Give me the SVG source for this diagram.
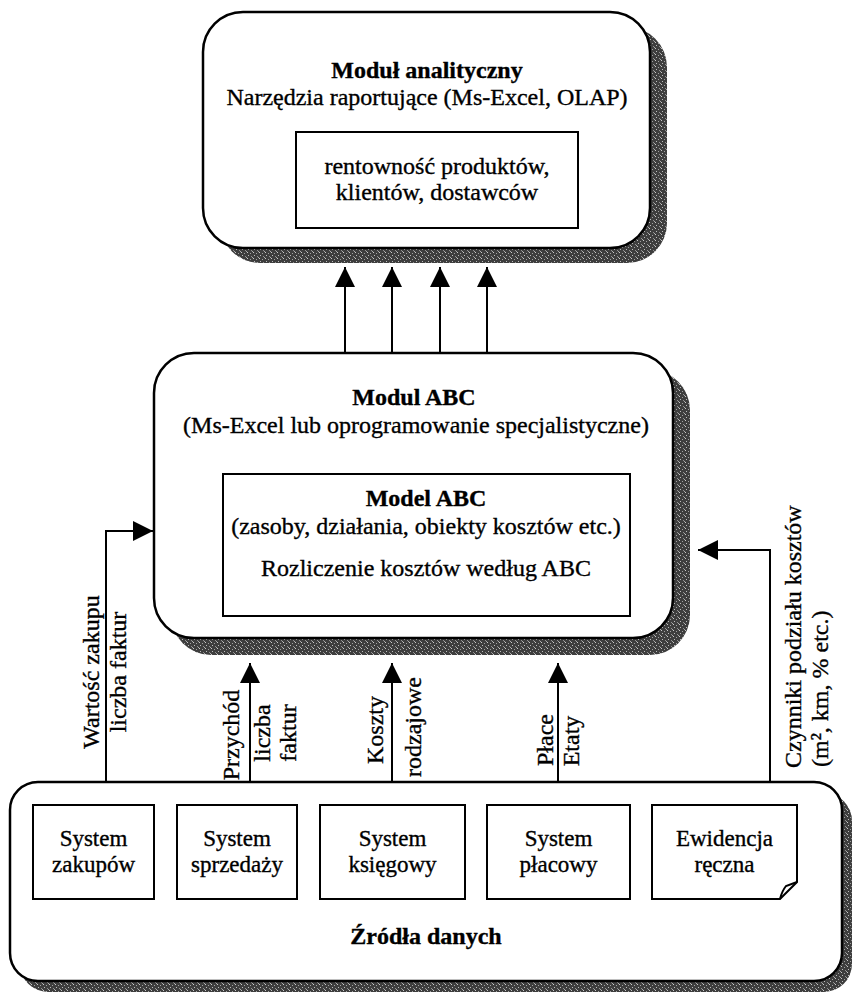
<svg xmlns="http://www.w3.org/2000/svg" width="853" height="994" viewBox="0 0 853 994">
<defs>
<pattern id="stip" width="6" height="6" patternUnits="userSpaceOnUse">
<rect width="6" height="6" fill="#3e3e3e"/>
<rect x="1" y="0" width="1" height="1" fill="#c8c8c8"/>
<rect x="4" y="1" width="1" height="1" fill="#a0a0a0"/>
<rect x="2" y="3" width="1" height="1" fill="#bdbdbd"/>
<rect x="5" y="4" width="1" height="1" fill="#909090"/>
<rect x="0" y="5" width="1" height="1" fill="#aaaaaa"/>
</pattern>
<marker id="ah" viewBox="0 0 20 20" refX="20" refY="10" markerWidth="20" markerHeight="20" markerUnits="userSpaceOnUse" orient="auto">
<path d="M0,0 L20,10 L0,20 Z" fill="#000"/>
</marker>
</defs>
<style>
text{font-family:"Liberation Serif","Times New Roman",serif;font-size:24px;fill:#000;stroke:#000;stroke-width:0.35}
.b{font-weight:bold}
.m{text-anchor:middle}
.s{text-anchor:start}
.sm{font-size:23px}
.outer{fill:#fff;stroke:#000;stroke-width:2.5}
.shadow{fill:url(#stip);stroke:none}
.inner{fill:#fff;stroke:#000;stroke-width:2}
.con{fill:none;stroke:#000;stroke-width:2}
</style>

<g id="modul-analityczny">
<rect class="shadow" x="220" y="27" width="447" height="236" rx="40"/>
<rect class="outer" x="203" y="12" width="447" height="236" rx="40"/>
<text class="b m" x="427" y="78">Moduł analityczny</text>
<text class="m" x="427" y="105">Narzędzia raportujące (Ms-Excel, OLAP)</text>
<g id="rentownosc">
<rect class="inner" x="296" y="132" width="282" height="96"/>
<text class="m" x="437" y="174">rentowność produktów,</text>
<text class="m" x="437" y="200">klientów, dostawców</text>
</g>
</g>

<g id="modul-abc">
<rect class="shadow" x="171" y="370" width="519" height="285" rx="40"/>
<rect class="outer" x="154" y="353" width="519" height="285" rx="40"/>
<text class="b m" x="414" y="405">Modul ABC</text>
<text class="m" x="416" y="433">(Ms-Excel lub oprogramowanie specjalistyczne)</text>
<g id="model-abc">
<rect class="inner" x="223" y="474" width="407" height="142"/>
<text class="b m" x="426" y="506">Model ABC</text>
<text class="m" x="426" y="534">(zasoby, działania, obiekty kosztów etc.)</text>
<text class="m" x="426" y="576">Rozliczenie kosztów według ABC</text>
</g>
</g>

<g id="zrodla-danych">
<rect class="shadow" x="20" y="793" width="832" height="199" rx="28"/>
<rect class="outer" x="10" y="782" width="832" height="199" rx="28"/>
<text class="b m" x="426" y="944">Źródła danych</text>
<g id="system-zakupow">
<rect class="inner" x="33" y="805" width="121" height="94"/>
<text class="m sm" x="93.5" y="846">System</text>
<text class="m sm" x="93.5" y="872">zakupów</text>
</g>
<g id="system-sprzedazy">
<rect class="inner" x="177" y="805" width="120" height="94"/>
<text class="m sm" x="237" y="846">System</text>
<text class="m sm" x="237" y="872">sprzedaży</text>
</g>
<g id="system-ksiegowy">
<rect class="inner" x="320" y="805" width="145" height="94"/>
<text class="m sm" x="392.5" y="846">System</text>
<text class="m sm" x="392.5" y="872">księgowy</text>
</g>
<g id="system-placowy">
<rect class="inner" x="487" y="805" width="143" height="94"/>
<text class="m sm" x="558.5" y="846">System</text>
<text class="m sm" x="558.5" y="872">płacowy</text>
</g>
<g id="ewidencja-reczna">
<path class="inner" d="M652,805 H797 V882 L780,899 H652 Z"/>
<path class="con" d="M797,882 L786,886 Q782,891 780,899"/>
<text class="m sm" x="724.5" y="846">Ewidencja</text>
<text class="m sm" x="724.5" y="872">ręczna</text>
</g>
</g>

<g id="connectors">
<line class="con" x1="345" y1="353" x2="345" y2="267" marker-end="url(#ah)"/>
<line class="con" x1="392" y1="353" x2="392" y2="267" marker-end="url(#ah)"/>
<line class="con" x1="440" y1="353" x2="440" y2="267" marker-end="url(#ah)"/>
<line class="con" x1="487" y1="353" x2="487" y2="267" marker-end="url(#ah)"/>
<polyline class="con" points="106,782 106,531 153,531" marker-end="url(#ah)"/>
<polyline class="con" points="770,782 770,550 698,550" marker-end="url(#ah)"/>
<line class="con" x1="250" y1="782" x2="250" y2="663" marker-end="url(#ah)"/>
<line class="con" x1="392" y1="782" x2="392" y2="663" marker-end="url(#ah)"/>
<line class="con" x1="558" y1="782" x2="558" y2="663" marker-end="url(#ah)"/>
</g>

<g id="labels">
<text class="m" transform="translate(99,672) rotate(-90)">Wartość zakupu</text>
<text class="m" transform="translate(126,672) rotate(-90)">liczba faktur</text>
<text class="m" transform="translate(239,735) rotate(-90)">Przychód</text>
<text class="m" transform="translate(270,733) rotate(-90)">liczba</text>
<text class="m" transform="translate(296,733) rotate(-90)">faktur</text>
<text class="m" transform="translate(383,730) rotate(-90)">Koszty</text>
<text class="m" transform="translate(421,727) rotate(-90)">rodzajowe</text>
<text class="m" transform="translate(553,740) rotate(-90)">Płace</text>
<text class="m" transform="translate(579,741) rotate(-90)">Etaty</text>
<text class="s" transform="translate(801,768) rotate(-90)">Czynniki podziału kosztów</text>
<text class="s" transform="translate(828,767) rotate(-90)">(m², km, % etc.)</text>
</g>
</svg>
